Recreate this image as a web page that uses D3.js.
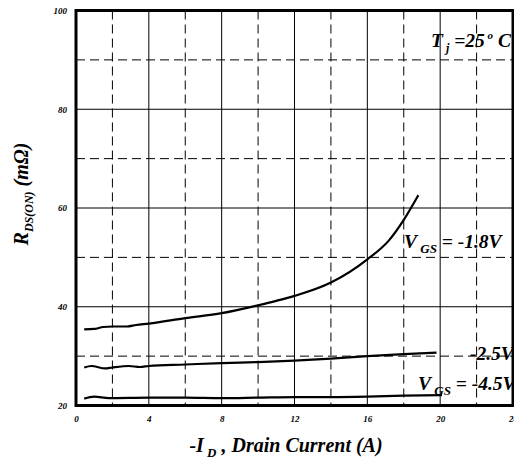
<!DOCTYPE html>
<html>
<head>
<meta charset="utf-8">
<script src="https://cdn.jsdelivr.net/npm/d3@7"></script>
<style>
  html, body { margin: 0; padding: 0; background: #fff; }
  svg { display: block; }
</style>
</head>
<body>
<div id="chart"></div>
<script>
// tick values
const xTicks = [0, 4, 8, 12, 16, 20, 24];
const yTicks = [20, 40, 60, 80, 100];
const xMinor = [2, 6, 10, 14, 18, 22];
const yMinor = [30, 50, 70, 90];

// VGS = -1.8V
const id18 = [0.45, 1, 1.5, 2, 2.8, 3.3, 4, 6, 8, 10, 11, 12, 14, 16, 17.2, 18, 18.8];
const r18 = [35.4, 35.5, 35.9, 36.0, 36.0, 36.3, 36.6, 37.7, 38.7, 40.3, 41.2, 42.2, 44.9, 49.6, 53.5, 57.6, 62.6];
// VGS = -2.5V
const id25 = [0.45, 0.85, 1.6, 2, 2.9, 3.5, 4, 6, 8, 10, 12, 14, 16, 18, 19.8];
const r25 = [27.7, 28.0, 27.5, 27.7, 28.0, 27.8, 28.0, 28.3, 28.6, 28.8, 29.1, 29.5, 30.0, 30.4, 30.7];
// VGS = -4.5V
const id45 = [0.45, 1, 1.8, 4, 6, 8, 10, 12, 14, 16, 18, 20.1];
const r45 = [21.4, 21.8, 21.5, 21.6, 21.6, 21.5, 21.6, 21.7, 21.7, 21.8, 22.0, 22.1];

const FONT = "'Liberation Serif', 'Times New Roman', serif";
const W = 514, H = 463;
const margin = { top: 10.5, left: 76, right: 1, bottom: 57.5 };
const width = W - margin.left - margin.right;
const height = H - margin.top - margin.bottom;

const svg = d3.select("#chart").append("svg")
    .attr("width", W)
    .attr("height", H)
    .style("font-family", FONT)
    .style("font-weight", "bold")
    .style("font-style", "italic");

const g = svg.append("g")
    .attr("transform", `translate(${margin.left},${margin.top})`);

const x = d3.scaleLinear().domain([0, 24]).range([0, width]);
const y = d3.scaleLinear().domain([20, 100]).range([height, 0]);

// grid - dashed
g.selectAll(".vmin").data(xMinor).enter().append("line")
    .attr("x1", d => x(d)).attr("x2", d => x(d))
    .attr("y1", 0).attr("y2", height)
    .attr("stroke", "#000").attr("stroke-width", 1).attr("stroke-dasharray", "9,5");
g.selectAll(".hmin").data(yMinor).enter().append("line")
    .attr("y1", d => y(d)).attr("y2", d => y(d))
    .attr("x1", 0).attr("x2", width)
    .attr("stroke", "#000").attr("stroke-width", 1).attr("stroke-dasharray", "9,5");

// grid - solid
g.selectAll(".vmaj").data(xTicks.slice(1, -1)).enter().append("line")
    .attr("x1", d => x(d)).attr("x2", d => x(d))
    .attr("y1", 0).attr("y2", height)
    .attr("stroke", "#000").attr("stroke-width", 1);
g.selectAll(".hmaj").data(yTicks.slice(1, -1)).enter().append("line")
    .attr("y1", d => y(d)).attr("y2", d => y(d))
    .attr("x1", 0).attr("x2", width)
    .attr("stroke", "#000").attr("stroke-width", 1);

// axes (labels only)
const xAxis = g.append("g")
    .attr("transform", `translate(0,${height})`)
    .call(d3.axisBottom(x).tickValues(xTicks).tickSize(0).tickPadding(10));
const yAxis = g.append("g")
    .call(d3.axisLeft(y).tickValues(yTicks).tickSize(0).tickPadding(9));
[xAxis, yAxis].forEach(a => {
    a.attr("font-family", null).attr("font-size", null);
    a.select(".domain").remove();
    a.selectAll("text")
        .style("font-family", FONT)
        .style("font-size", "9px");
});

// curves
const line = d3.line()
    .x(d => x(d[0]))
    .y(d => y(d[1]))
    .curve(d3.curveMonotoneX);

[[id18, r18], [id25, r25], [id45, r45]].forEach(([xs, ys]) => {
    g.append("path")
        .datum(xs.map((v, i) => [v, ys[i]]))
        .attr("fill", "none")
        .attr("stroke", "#000")
        .attr("stroke-width", 2.2)
        .attr("d", line);
});

// frame
g.append("rect")
    .attr("x", 0).attr("y", 0)
    .attr("width", width).attr("height", height)
    .attr("fill", "none")
    .attr("stroke", "#000")
    .attr("stroke-width", 3);

// annotations
function label(xp, yp, size) {
    return svg.append("text").attr("x", xp).attr("y", yp)
        .style("font-family", FONT).style("font-size", size + "px");
}

const tj = label(431, 47, 19.5);
tj.append("tspan").text("T");
tj.append("tspan").attr("dy", 5).style("font-size", "12px").text(" j");
tj.append("tspan").attr("dy", -5).text(" =25");
tj.append("tspan").attr("dy", -8).style("font-size", "11px").text(" o");
tj.append("tspan").attr("dy", 8).text(" C");

const v18 = label(404, 248, 19.5);
v18.append("tspan").text("V");
v18.append("tspan").attr("dy", 5).style("font-size", "13px").text(" GS");
v18.append("tspan").attr("dy", -5).text(" = -1.8V");

label(470, 360, 19.5).text("-2.5V");

const v45 = label(418, 390, 19.5);
v45.append("tspan").text("V");
v45.append("tspan").attr("dy", 5).style("font-size", "13px").text(" GS");
v45.append("tspan").attr("dy", -5).text(" = -4.5V");

// axis titles
const xt = label(286, 452, 20).attr("text-anchor", "middle");
xt.append("tspan").text("-I");
xt.append("tspan").attr("dy", 5).style("font-size", "13px").text(" D");
xt.append("tspan").attr("dy", -5).text("  , Drain Current (A)");

const yt = svg.append("text")
    .attr("transform", "translate(28,194) rotate(-90)")
    .attr("text-anchor", "middle")
    .style("font-family", FONT)
    .style("font-size", "20px");
yt.append("tspan").text("R");
yt.append("tspan").attr("dy", 5).style("font-size", "12px").text("DS(ON)");
yt.append("tspan").attr("dy", -5).text(" (m\u03A9)");
</script>
</body>
</html>
